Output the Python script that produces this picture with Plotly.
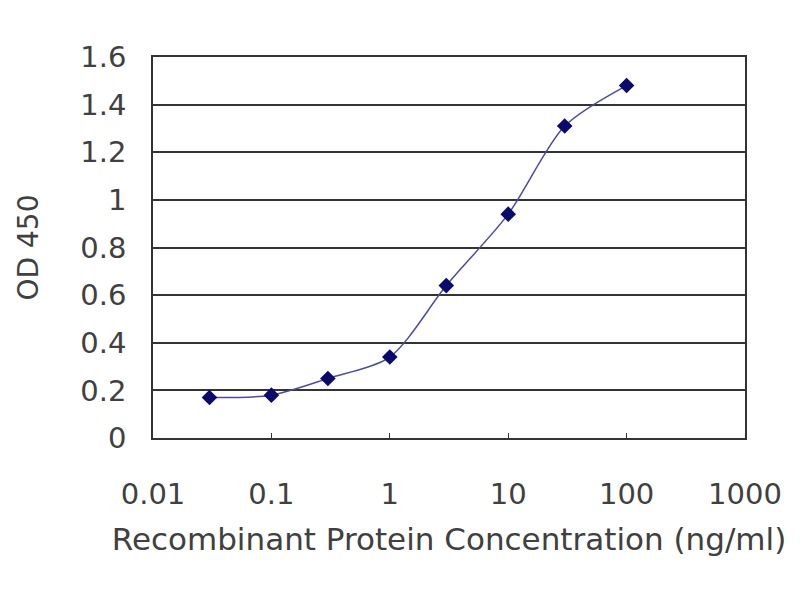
import plotly.graph_objects as go

# concentration (ng/ml) and OD 450 readings
conc = [0.03, 0.1, 0.3, 1, 3, 10, 30, 100]
od450 = [0.17, 0.18, 0.25, 0.34, 0.64, 0.94, 1.31, 1.48]

x_ticks = [0.01, 0.1, 1, 10, 100, 1000]
x_ticktext = ["0.01", "0.1", "1", "10", "100", "1000"]
y_ticks = [0, 0.2, 0.4, 0.6, 0.8, 1, 1.2, 1.4, 1.6]
y_ticktext = ["0", "0.2", "0.4", "0.6", "0.8", "1", "1.2", "1.4", "1.6"]

font = dict(family="DejaVu Sans, Arial, sans-serif", size=29, color="#404040")

fig = go.Figure()
fig.add_trace(go.Scatter(
    x=conc, y=od450,
    mode="lines+markers",
    line=dict(color="#4a4aa8", width=1.5, shape="spline", smoothing=0.8),
    marker=dict(symbol="diamond", size=12, color="#0a0a6e"),
    showlegend=False,
))

# page body adds ~8px offset, so the figure is sized 792x592
fig.update_layout(
    width=792, height=592,
    paper_bgcolor="white", plot_bgcolor="white",
    margin=dict(l=145, r=55, t=49, b=162),
    font=font,
    xaxis=dict(
        type="log", range=[-2, 3],
        tickvals=x_ticks, ticktext=x_ticktext,
        ticks="inside", ticklen=5, tickcolor="#333",
        showgrid=False, showline=True, linecolor="#333", linewidth=1.5,
        mirror=True, ticklabelstandoff=29, automargin=False,
        title=dict(text="Recombinant Protein Concentration (ng/ml)", standoff=19,
                   font=dict(size=31)),
        zeroline=False,
    ),
    yaxis=dict(
        range=[0, 1.6],
        tickvals=y_ticks, ticktext=y_ticktext,
        showgrid=True, gridcolor="#333", gridwidth=1.6,
        showline=True, linecolor="#333", linewidth=1.5, mirror=True,
        ticks="", ticklabelstandoff=19, automargin=False,
        title=dict(text="OD 450", standoff=34, font=dict(size=28)),
        zeroline=False,
    ),
)

fig.write_html("out.html")
